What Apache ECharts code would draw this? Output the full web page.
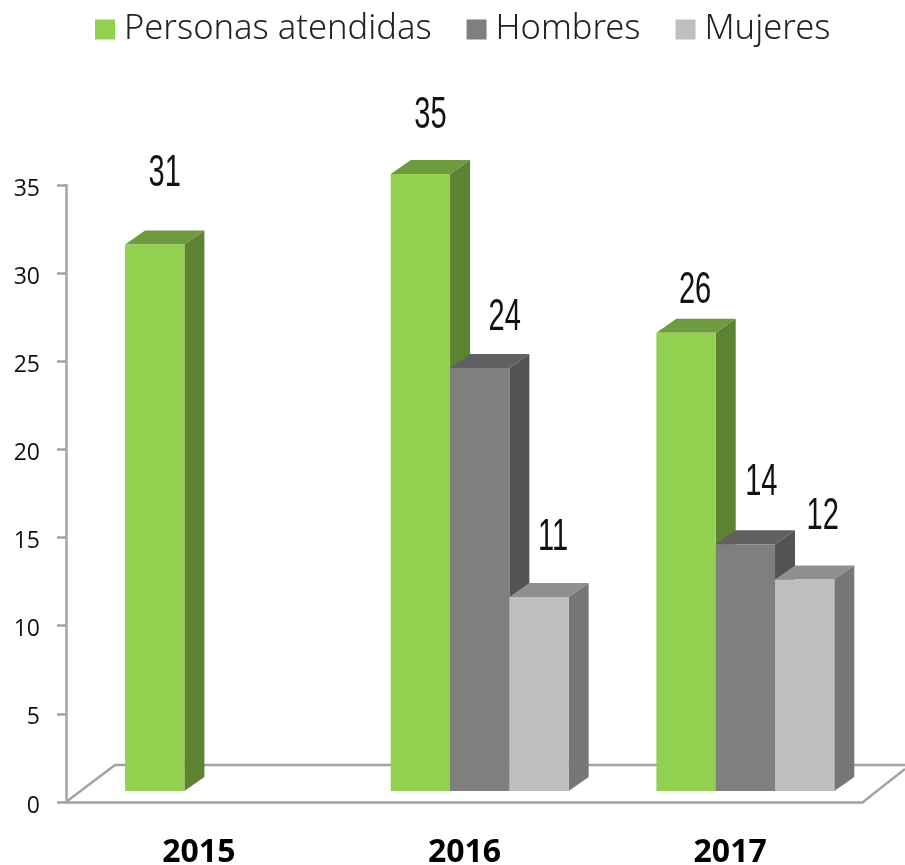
<!DOCTYPE html>
<html>
<head>
<meta charset="utf-8">
<style>
  html, body { margin: 0; padding: 0; background: #fff; }
  #chart { width: 905px; height: 865px; }
</style>
<script src="https://cdn.jsdelivr.net/npm/echarts@6/dist/echarts.min.js"></script>
</head>
<body>
<div id="chart"></div>
<script>
var years = ['2015', '2016', '2017'];
var personas = [31, 35, 26];
var hombres = [null, 24, 14];
var mujeres = [null, 11, 12];

// hand placed value labels, the source chart has them scattered
var personasLabelOffset = [[10, -71], [10, -58], [9, -42]];
var hombresLabelOffset = [null, [25, -50], [16, -61]];
var mujeresLabelOffset = [null, [14, -59], [18, -63]];

var BAR_W = 59.3;
var DEPTH_X = 20;
var DEPTH_Y = 14;
var LIFT = 11;      // bars stand on the floor, above the axis zero
var SHIFT = 15.2;   // cluster sits right of the band centre
var AXIS_COLOR = '#a3a3a3';

function barRenderer(slot, colors, labelOffset) {
    return function (params, api) {
        var v = api.value(1);
        if (isNaN(v)) {
            return null;
        }
        var i = api.value(0);
        var top = api.coord([i, v]);
        var base = api.coord([i, 0]);
        var x0 = top[0] + SHIFT + (slot - 1.5) * BAR_W;
        var x1 = x0 + BAR_W;
        var y0 = top[1] - LIFT;
        var y1 = base[1] - LIFT;
        var off = labelOffset[i];
        return {
            type: 'group',
            children: [
                {
                    type: 'polygon',
                    shape: { points: [[x0, y0], [x1, y0], [x1 + DEPTH_X, y0 - DEPTH_Y], [x0 + DEPTH_X, y0 - DEPTH_Y]] },
                    style: { fill: colors.top }
                },
                {
                    type: 'polygon',
                    shape: { points: [[x1, y0], [x1 + DEPTH_X, y0 - DEPTH_Y], [x1 + DEPTH_X, y1 - DEPTH_Y], [x1, y1]] },
                    style: { fill: colors.side }
                },
                {
                    type: 'rect',
                    shape: { x: x0, y: y0, width: BAR_W, height: y1 - y0 },
                    style: { fill: colors.front }
                },
                {
                    type: 'text',
                    x: x0 + BAR_W / 2 + off[0],
                    y: y0 + off[1],
                    scaleX: 0.66,
                    style: {
                        text: String(v),
                        fill: '#111',
                        font: '44px "Liberation Sans Narrow", "Liberation Sans", sans-serif',
                        align: 'center',
                        verticalAlign: 'middle'
                    }
                }
            ]
        };
    };
}

function floorRenderer(params, api) {
    var band = api.size([1, 0])[0];
    var first = api.coord([0, 0]);
    var last = api.coord([years.length - 1, 0]);
    var left = first[0] - band / 2;
    var right = last[0] + band / 2;
    var y = first[1];
    return {
        type: 'polyline',
        shape: { points: [[left, y], [left + 49, y - 37], [right + 42, y - 37]] },
        style: { stroke: AXIS_COLOR, lineWidth: 2.5, fill: null }
    };
}

function floorEdgeRenderer(params, api) {
    var band = api.size([1, 0])[0];
    var last = api.coord([years.length - 1, 0]);
    var right = last[0] + band / 2;
    return {
        type: 'line',
        shape: { x1: right, y1: last[1], x2: right + 42, y2: last[1] - 33 },
        style: { stroke: AXIS_COLOR, lineWidth: 2.5 }
    };
}

function toData(values) {
    return values.map(function (v, i) {
        return [i, v === null ? '-' : v];
    });
}

var legendText = {
    fontFamily: '"Noto Sans"',
    fontWeight: 300,
    fontSize: 34.5,
    color: '#222',
    padding: [0, 0, 0, 4]
};

var chart = echarts.init(document.getElementById('chart'), null, { renderer: 'canvas' });

var option = {
    animation: false,
    backgroundColor: '#fff',
    legend: {
        left: 90,
        top: 7,
        itemWidth: 20,
        itemHeight: 20,
        itemGap: 35,
        icon: 'rect',
        textStyle: legendText,
        data: [
            { name: 'Personas atendidas' },
            { name: 'Hombres', textStyle: Object.assign({}, legendText, { padding: [0, 11, 0, 4] }) },
            { name: 'Mujeres' }
        ]
    },
    grid: { left: 66, right: 42, top: 185, bottom: 63, containLabel: false, outerBoundsMode: 'none' },
    xAxis: {
        type: 'category',
        data: years,
        axisLine: { lineStyle: { color: AXIS_COLOR, width: 2.5 } },
        axisTick: { length: 12, lineStyle: { color: AXIS_COLOR, width: 2.5 } },
        axisLabel: {
            margin: 35,
            color: '#000',
            fontFamily: '"Open Sans"',
            fontWeight: 'bold',
            fontSize: 32
        }
    },
    yAxis: {
        type: 'value',
        min: 0,
        max: 35,
        interval: 5,
        splitLine: { show: false },
        axisLine: { show: true, lineStyle: { color: AXIS_COLOR, width: 2.5 } },
        axisTick: { show: true, length: 9, lineStyle: { color: AXIS_COLOR, width: 2.5 } },
        axisLabel: {
            margin: 26,
            color: '#111',
            fontFamily: '"Open Sans"',
            fontSize: 23,
            verticalAlign: 'top',
            lineHeight: 8
        }
    },
    series: [
        {
            type: 'custom', silent: true, z: 1, data: [[0, 0]],
            renderItem: floorRenderer, tooltip: { show: false }
        },
        {
            type: 'custom', silent: true, z: 1, data: [[0, 0]],
            renderItem: floorEdgeRenderer, tooltip: { show: false }
        },
        {
            name: 'Personas atendidas', type: 'custom', z: 2,
            itemStyle: { color: '#92D050' },
            data: toData(personas),
            renderItem: barRenderer(0, { front: '#92D050', side: '#5E8233', top: '#6F9A3D' }, personasLabelOffset)
        },
        {
            name: 'Hombres', type: 'custom', z: 3,
            itemStyle: { color: '#7F7F7F' },
            data: toData(hombres),
            renderItem: barRenderer(1, { front: '#7F7F7F', side: '#535353', top: '#606060' }, hombresLabelOffset)
        },
        {
            name: 'Mujeres', type: 'custom', z: 4,
            itemStyle: { color: '#BFBFBF' },
            data: toData(mujeres),
            renderItem: barRenderer(2, { front: '#BFBFBF', side: '#777777', top: '#8F8F8F' }, mujeresLabelOffset)
        }
    ]
};

chart.setOption(option);
</script>
</body>
</html>
